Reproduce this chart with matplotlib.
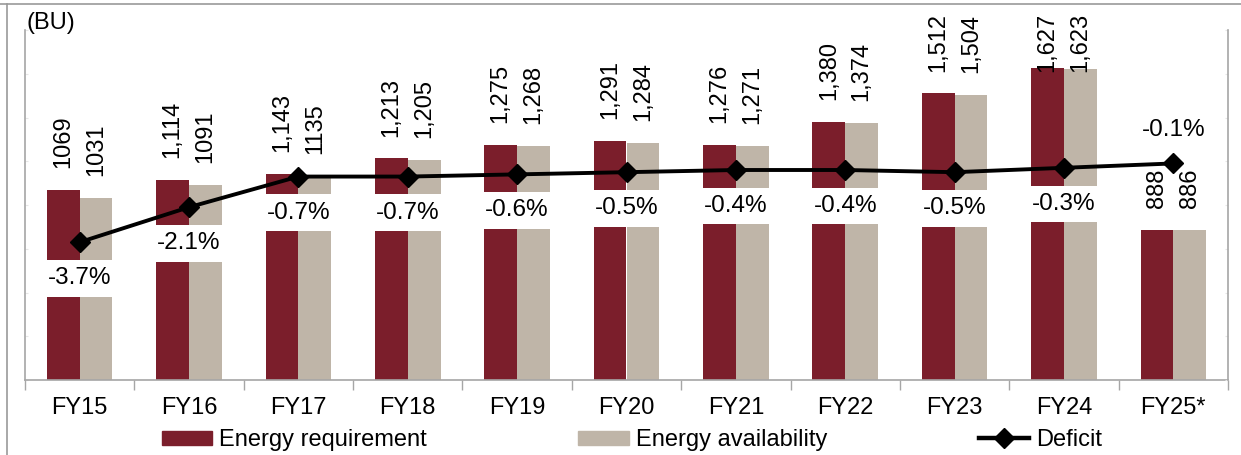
import matplotlib
matplotlib.use("Agg")
import matplotlib.pyplot as plt
import numpy as np
from matplotlib.patches import Patch
from matplotlib.lines import Line2D

plt.rcParams['font.family'] = ['Liberation Sans', 'DejaVu Sans']

categories = ["FY15", "FY16", "FY17", "FY18", "FY19", "FY20", "FY21", "FY22", "FY23", "FY24", "FY25*"]
requirement = [1069, 1114, 1143, 1213, 1275, 1291, 1276, 1380, 1512, 1627, 888]
availability = [1031, 1091, 1135, 1205, 1268, 1284, 1271, 1374, 1504, 1623, 886]
req_labels = ["1069", "1,114", "1,143", "1,213", "1,275", "1,291", "1,276", "1,380", "1,512", "1,627", "888"]
avl_labels = ["1031", "1091", "1135", "1,205", "1,268", "1,284", "1,271", "1,374", "1,504", "1,623", "886"]
deficit = [-3.7, -2.1, -0.7, -0.7, -0.6, -0.5, -0.4, -0.4, -0.5, -0.3, -0.1]

RED = "#7B1E2B"
GREY = "#BFB5A8"
AXC = "#A6A6A6"
FS = 17

fig = plt.figure(figsize=(12.41, 4.55), dpi=100)
ax = fig.add_axes([25/1241, 1-380/455, 1203/1241, 350/455])
x = np.arange(len(categories))
w = 0.3
ax.bar(x - w/2, requirement, width=w, color=RED, zorder=2)
ax.bar(x + w/2, availability, width=w, color=GREY, zorder=2)
ax.set_xlim(-0.5, len(categories) - 0.5)
ax.set_ylim(200, 1800)

for i in range(len(categories)):
    for dx, v, lab in ((-w/2, requirement[i], req_labels[i]), (w/2, availability[i], avl_labels[i])):
        ax.text(x[i] + dx, min(v + 100, 1610), lab, rotation=90, ha='center', va='bottom',
                fontsize=FS, clip_on=False)

ax.set_xticks(x)
ax.set_xticklabels(categories, fontsize=FS)
ax.set_xticks(np.arange(len(categories) + 1) - 0.5, minor=True)
ax.tick_params(axis='x', which='major', length=0, pad=12)
ax.tick_params(axis='x', which='minor', length=7, color=AXC, width=1)
ax.set_yticks(np.arange(200, 1801, 200))
ax.tick_params(axis='y', length=2, direction='in', color="#E6E6E6", labelleft=False)
for s in ('left', 'bottom'):
    ax.spines[s].set_color(AXC)
    ax.spines[s].set_linewidth(1.2)
ax.spines['top'].set_visible(False)
ax.spines['right'].set_visible(False)

ax2 = ax.twinx()
ax2.set_ylim(-10, 6)
ax2.patch.set_visible(False)
ax2.plot(x, deficit, color='black', lw=2.8, marker='D', ms=10, zorder=6)
for i, d in enumerate(deficit):
    off = 24 if i == len(deficit) - 1 else -26
    ax2.annotate(f"{d:.1f}%", (x[i], d), xytext=(0, off), textcoords='offset points',
                 ha='center', va='center', fontsize=17.5, zorder=4,
                 bbox=dict(boxstyle='square,pad=0.3', fc='white', ec='none'))
ax2.set_yticks(np.arange(-10, 7, 2))
ax2.tick_params(axis='y', length=2, direction='in', color="#E6E6E6", labelright=False)
ax2.spines['right'].set_color(AXC)
ax2.spines['right'].set_linewidth(1.2)
for s in ('left', 'top', 'bottom'):
    ax2.spines[s].set_visible(False)

fig.text(27/1241, 1-23/455, "(BU)", fontsize=FS, ha='left', va='center')

handles = [Patch(color=RED), Patch(color=GREY),
           Line2D([], [], color='black', lw=3.2, marker='D', ms=10)]
fig.legend(handles, ["Energy requirement", "Energy availability", "Deficit"],
           loc='center', bbox_to_anchor=(632/1241, 1-440/455), ncol=3, frameon=False,
           fontsize=FS, handlelength=2.15, handleheight=0.55, handletextpad=0.3,
           columnspacing=6.4, borderpad=0, borderaxespad=0)

# outer frame lines
fig.add_artist(Line2D([0, 1], [1-3.5/455, 1-3.5/455], color="#999999", lw=1.2, transform=fig.transFigure))
fig.add_artist(Line2D([7/1241, 7/1241], [0, 1-3.5/455], color="#999999", lw=1.2, transform=fig.transFigure))

fig.savefig("out.png", dpi=100)
